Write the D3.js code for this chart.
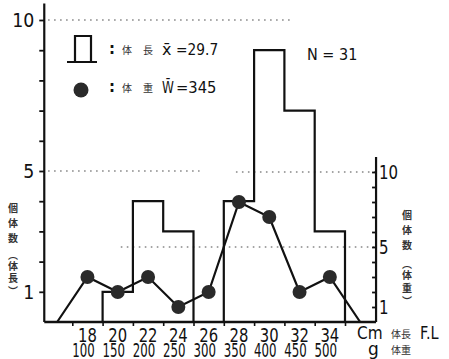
<!DOCTYPE html>
<html>
<head>
<meta charset="utf-8">
<script src="https://cdn.jsdelivr.net/npm/d3@7"></script>
<style>
  body { margin: 0; background: #fff; }
  svg { display: block; }
  .num { font-family: "DejaVu Sans", "Liberation Sans", sans-serif; fill: #111; }
  .cjk { font-family: "Noto Sans CJK JP", sans-serif; fill: #333; }
</style>
</head>
<body>
<div class="chart"></div>
<script>
// body length classes (cm, bin centres) and fish counts
const lengthBins = [18, 20, 22, 24, 26, 28, 30, 32, 34]
const lengthCounts = [0, 1, 4, 3, 0, 4, 9, 7, 3]

// body weight classes (g) and fish counts, zero at both ends
const weightBins = [50, 100, 150, 200, 250, 300, 350, 400, 450, 500, 550]
const weightCounts = [0, 3, 2, 3, 1, 2, 8, 7, 2, 3, 0]
const weightLabels = [100, 150, 200, 250, 300, 350, 400, 450, 500]

const leftTicks = [1, 2, 3, 4, 5, 6, 7, 8, 9, 10]
const leftLabels = [1, 5, 10]
const rightTicks = [1, 2, 3, 4, 5, 6, 7, 8, 9, 10]
const rightLabels = [1, 5, 10]

// dotted guide lines: value on which axis, span in cm
const guides = [
    { axis: "L", v: 10, from: 15.4, to: 31.6 },
    { axis: "L", v: 5, from: 15.4, to: 25.4 },
    { axis: "R", v: 10, from: 27.8, to: 37 },
    { axis: "R", v: 5, from: 20.2, to: 37 }
]

const meanLength = "29.7"
const meanWeight = "345"
const total = 31

const width = 449
const height = 359

const svg = d3.select(".chart")
    .append("svg")
    .attr("width", width)
    .attr("height", height)

// condensed lettering like the original stencil digits: squeeze horizontally only
function squeeze(sel, px, py, sx) {
    sel.attr("x", 0).attr("y", 0)
        .attr("transform", (d, i) => `translate(${px(d, i)},${py(d, i)}) scale(${sx},1)`)
}

// scales
const x = d3.scaleLinear().domain([17, 35]).range([72.3, 345])
const xw = d3.scaleLinear().domain([100, 500]).range([x(18), x(34)])
const yL = d3.scaleLinear().domain([0, 10]).range([322, 20])
const yR = d3.scaleLinear().domain([0, 10]).range([322, 172])

const xStart = 15.15
const xEnd = 37.05

// dotted guides
svg.selectAll("line.guide")
    .data(guides)
    .join("line")
    .attr("class", "guide")
    .attr("x1", d => x(d.from))
    .attr("x2", d => x(d.to))
    .attr("y1", d => (d.axis == "L" ? yL : yR)(d.v))
    .attr("y2", d => (d.axis == "L" ? yL : yR)(d.v))
    .attr("stroke", "#888")
    .attr("stroke-width", 1.6)
    .attr("stroke-dasharray", "1.6,4.4")

// left axis
const leftAxis = svg.append("g")
    .attr("transform", `translate(${x(xStart)}, 0)`)
    .call(d3.axisLeft(yL).tickValues(leftTicks).tickSize(5).tickFormat(""))
leftAxis.select(".domain")
    .attr("d", `M0,${yL(10.55)}V${yL(0)}`)
    .attr("stroke", "#111").attr("stroke-width", 2.2)
leftAxis.selectAll(".tick line").attr("stroke", "#111").attr("stroke-width", 1.8)

svg.selectAll("text.lLab")
    .data(leftLabels)
    .join("text")
    .attr("class", "lLab num")
    .attr("text-anchor", "end")
    .attr("font-size", 20)
    .text(d => d)
    .call(squeeze, () => x(xStart) - 10, d => yL(d) + 7, 0.87)

// right axis
const rightAxis = svg.append("g")
    .attr("transform", `translate(${x(xEnd)}, 0)`)
    .call(d3.axisLeft(yR).tickValues(rightTicks).tickSize(4).tickFormat(""))
rightAxis.select(".domain")
    .attr("d", `M0,${yR(11)}V${yR(0)}`)
    .attr("stroke", "#111").attr("stroke-width", 2.2)
rightAxis.selectAll(".tick line").attr("stroke", "#111").attr("stroke-width", 1.8)

svg.selectAll("text.rLab")
    .data(rightLabels)
    .join("text")
    .attr("class", "rLab num")
    .attr("font-size", 20)
    .text(d => d)
    .call(squeeze, () => x(xEnd) + 3, d => yR(d) + 7, 0.75)

// bottom axis
const binEdges = lengthBins.map(d => d - 1).concat([lengthBins[lengthBins.length - 1] + 1])
const bottomAxis = svg.append("g")
    .attr("transform", `translate(0, ${yL(0)})`)
    .call(d3.axisBottom(x).tickValues(binEdges).tickSize(4).tickFormat(""))
bottomAxis.select(".domain")
    .attr("d", `M${x(xStart)},0H${x(xEnd)}`)
    .attr("stroke", "#111").attr("stroke-width", 2.4)
bottomAxis.selectAll(".tick line").attr("stroke", "#111").attr("stroke-width", 1.6)

svg.selectAll("text.cmLab")
    .data(lengthBins)
    .join("text")
    .attr("class", "cmLab num")
    .attr("text-anchor", "middle")
    .attr("font-size", 19)
    .text(d => d)
    .call(squeeze, d => x(d), () => 342, 0.78)

svg.selectAll("text.gLab")
    .data(weightLabels)
    .join("text")
    .attr("class", "gLab num")
    .attr("text-anchor", "middle")
    .attr("font-size", 19)
    .text(d => d)
    .call(squeeze, d => xw(d) - 4, () => 356.5, 0.62)

// length histogram outline
const histPts = lengthBins.map((d, i) => ({ x: d - 1, c: lengthCounts[i] }))
histPts.push({ x: lengthBins[lengthBins.length - 1] + 1, c: 0 })

const histLine = d3.line()
    .x(d => x(d.x))
    .y(d => yL(d.c))
    .curve(d3.curveStepAfter)

svg.append("path")
    .datum(histPts)
    .attr("d", histLine)
    .attr("fill", "none")
    .attr("stroke", "#111")
    .attr("stroke-width", 2.2)

// weight polygon
const weightData = weightBins.map((d, i) => ({ w: d, c: weightCounts[i] }))
const weightLine = d3.line()
    .x(d => xw(d.w))
    .y(d => yR(d.c))

svg.append("path")
    .datum(weightData)
    .attr("d", weightLine)
    .attr("fill", "none")
    .attr("stroke", "#111")
    .attr("stroke-width", 2.2)

svg.selectAll("circle.dot")
    .data(weightData.filter(d => d.c > 0))
    .join("circle")
    .attr("class", "dot")
    .attr("cx", d => xw(d.w))
    .attr("cy", d => yR(d.c))
    .attr("r", 7)
    .attr("fill", "#2a2a2a")

// legend
svg.append("path")
    .attr("d", "M75,62V36H91V62M67,62H97")
    .attr("fill", "none")
    .attr("stroke", "#111")
    .attr("stroke-width", 2.2)
svg.append("circle")
    .attr("cx", 81).attr("cy", 90).attr("r", 7.5)
    .attr("fill", "#2a2a2a")

const legendRows = [
    { y: 55, a: "体", b: "長", sym: "x\u0304", val: meanLength, sx: 0.86 },
    { y: 93, a: "体", b: "重", sym: "W\u0304", val: meanWeight, sx: 0.92 }
]
legendRows.forEach(r => {
    svg.append("text").attr("class", "num").attr("x", 109).attr("y", r.y - 1)
        .attr("font-size", 15).attr("font-weight", "bold").text(":")
    svg.append("text").attr("class", "cjk").attr("x", 122).attr("y", r.y - 1)
        .attr("font-size", 10).text(r.a)
    svg.append("text").attr("class", "cjk").attr("x", 143).attr("y", r.y - 1)
        .attr("font-size", 10).text(r.b)
    svg.append("text").attr("class", "num")
        .attr("font-size", 16).text(r.sym)
        .call(squeeze, () => 162, () => r.y, r.sym[0] == "W" ? 0.75 : 1)
    svg.append("text").attr("class", "num")
        .attr("font-size", 16).text("=" + r.val)
        .call(squeeze, () => 176, () => r.y, r.sx)
})

svg.append("text")
    .attr("class", "num")
    .attr("font-size", 16)
    .text("N = " + total)
    .call(squeeze, () => 307, () => 60, 0.9)

// unit labels
svg.append("text").attr("class", "num")
    .attr("font-size", 17).text("Cm")
    .call(squeeze, () => 357, () => 339, 0.9)
svg.append("text").attr("class", "num").attr("x", 368).attr("y", 355)
    .attr("font-size", 17).text("g")
svg.append("text").attr("class", "cjk").attr("x", 391).attr("y", 338)
    .attr("font-size", 10).text("体長")
svg.append("text").attr("class", "cjk").attr("x", 391).attr("y", 354)
    .attr("font-size", 10).text("体重")
svg.append("text").attr("class", "num")
    .attr("font-size", 17).text("F.L")
    .call(squeeze, () => 420, () => 339, 0.85)

// vertical titles
function vTitle(chars, cx, ys) {
    svg.append("g").selectAll("text")
        .data(chars)
        .join("text")
        .attr("class", "cjk")
        .attr("x", cx)
        .attr("y", (d, i) => ys[i])
        .attr("text-anchor", "middle")
        .attr("font-size", 10)
        .attr("font-weight", "bold")
        .text(d => d)
}
vTitle(["個", "体", "数", "︵", "体", "長", "︶"], 13, [212, 227, 242, 259, 270, 282, 295])
vTitle(["個", "体", "数", "︵", "体", "重", "︶"], 407, [219, 234, 249, 268, 279, 292, 305])
</script>
</body>
</html>
